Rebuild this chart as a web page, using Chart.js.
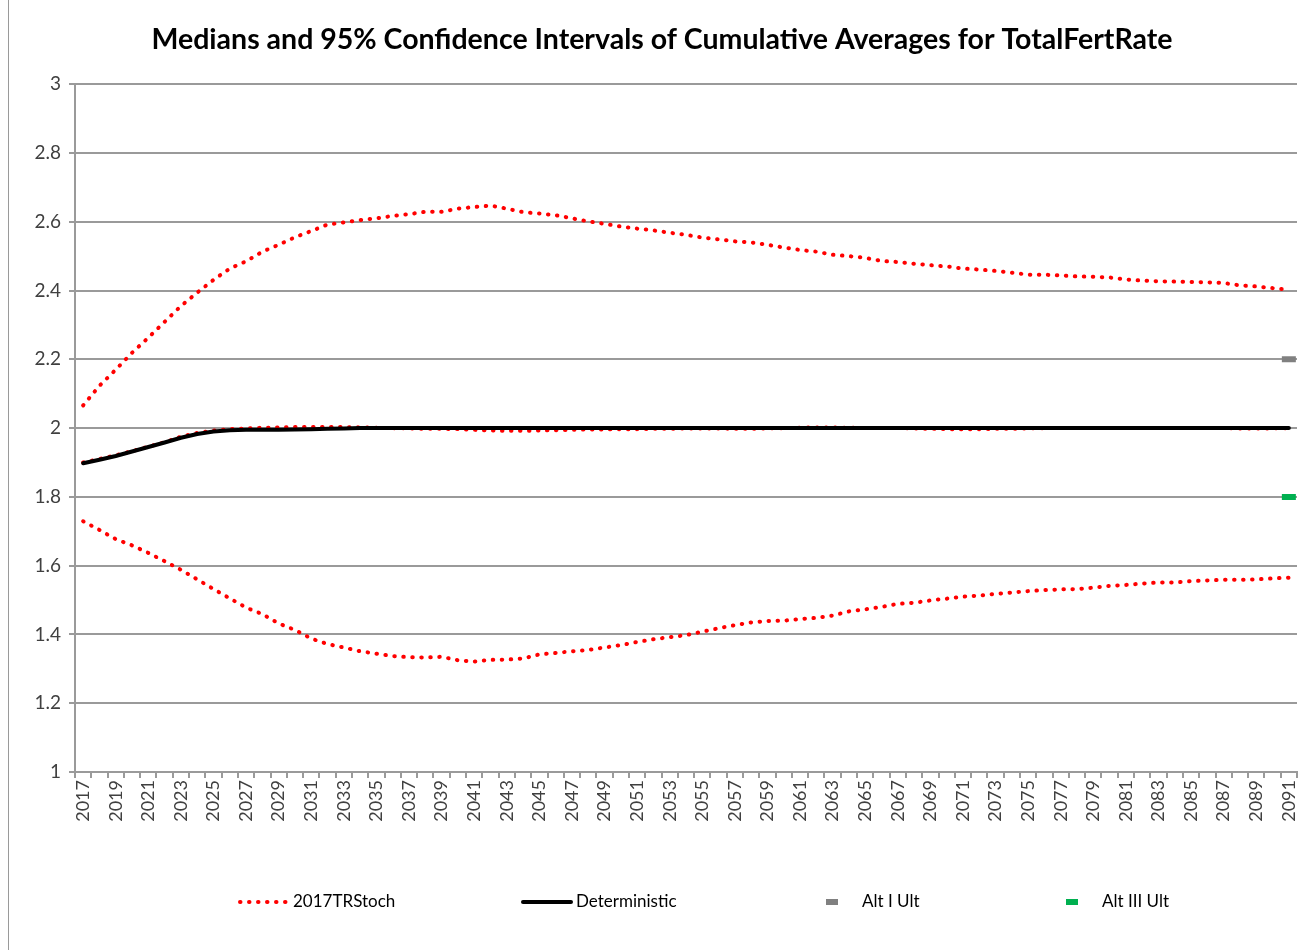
<!DOCTYPE html>
<html lang="en">
<head>
    <meta charset="UTF-8">
    <title>TotalFertRate</title>
    <style>
        html, body {
            margin: 0;
            padding: 0;
            background: #fff;
            overflow: hidden;
        }
        .frame {
            position: absolute;
            left: 8px;
            top: -5px;
            width: 1400px;
            height: 970px;
            border: 1px solid #9a9a9a;
            background: #fff;
        }
        #chart {
            position: absolute;
            left: 0;
            top: 5px;
        }
    </style>
    <script src="https://cdn.jsdelivr.net/npm/chart.js"></script>
</head>
<body>
    <div class="frame">
        <canvas id="chart" width="1306" height="945"></canvas>
    </div>

    <script>
        // years 2017..2091
        const years = [];
        for (let y = 2017; y <= 2091; y++) years.push(String(y));

        const stochUpper = [
            2.066, 2.123, 2.170, 2.219, 2.263, 2.309, 2.355, 2.394, 2.431, 2.464,
            2.485, 2.513, 2.533, 2.555, 2.573, 2.592, 2.598, 2.605, 2.610, 2.617,
            2.622, 2.629, 2.629, 2.638, 2.643, 2.647, 2.638, 2.628, 2.624, 2.619,
            2.610, 2.601, 2.594, 2.586, 2.580, 2.575, 2.568, 2.562, 2.554, 2.549,
            2.543, 2.540, 2.533, 2.525, 2.518, 2.513, 2.504, 2.500, 2.495, 2.486,
            2.483, 2.478, 2.474, 2.470, 2.464, 2.461, 2.457, 2.452, 2.446, 2.446,
            2.444, 2.441, 2.440, 2.438, 2.432, 2.429, 2.427, 2.426, 2.425, 2.424,
            2.422, 2.415, 2.412, 2.407, 2.402
        ];

        const stochMedian = [
            1.900, 1.910, 1.921, 1.933, 1.946, 1.959, 1.975, 1.986, 1.993, 1.997,
            1.999, 2.001, 2.002, 2.003, 2.003, 2.003, 2.003, 2.002, 2.001, 2.000,
            1.999, 1.998, 1.998, 1.997, 1.995, 1.993, 1.992, 1.992, 1.993, 1.994,
            1.995, 1.996, 1.996, 1.997, 1.997, 1.998, 1.998, 1.999, 1.999, 1.999,
            1.998, 1.998, 1.999, 2.000, 2.001, 2.002, 2.002, 2.001, 2.000, 2.000,
            2.000, 1.999, 1.998, 1.997, 1.997, 1.997, 1.998, 1.998, 1.999, 2.000,
            2.000, 2.000, 2.000, 2.000, 2.000, 2.000, 2.000, 2.000, 2.000, 2.000,
            2.000, 1.999, 1.999, 1.999, 2.000
        ];

        const stochLower = [
            1.729, 1.704, 1.677, 1.659, 1.637, 1.613, 1.588, 1.560, 1.532, 1.505,
            1.478, 1.459, 1.432, 1.413, 1.388, 1.372, 1.362, 1.351, 1.344, 1.337,
            1.334, 1.333, 1.335, 1.325, 1.321, 1.326, 1.327, 1.330, 1.342, 1.346,
            1.351, 1.355, 1.362, 1.369, 1.378, 1.386, 1.392, 1.398, 1.408, 1.418,
            1.427, 1.435, 1.439, 1.440, 1.445, 1.448, 1.455, 1.467, 1.473, 1.480,
            1.489, 1.492, 1.499, 1.504, 1.510, 1.513, 1.518, 1.522, 1.526, 1.529,
            1.531, 1.532, 1.536, 1.541, 1.544, 1.548, 1.551, 1.551, 1.555, 1.557,
            1.559, 1.559, 1.560, 1.563, 1.565
        ];

        const deterministic = [
            1.898, 1.908, 1.919, 1.932, 1.945, 1.958, 1.972, 1.983, 1.990, 1.994,
            1.995, 1.995, 1.995, 1.996, 1.997, 1.998, 1.999, 2.000, 2.000, 2.000,
            2.000, 2.000, 2.000, 2.000, 2.000, 2.000, 2.000, 2.000, 2.000, 2.000,
            2.000, 2.000, 2.000, 2.000, 2.000, 2.000, 2.000, 2.000, 2.000, 2.000,
            2.000, 2.000, 2.000, 2.000, 2.000, 2.000, 2.000, 2.000, 2.000, 2.000,
            2.000, 2.000, 2.000, 2.000, 2.000, 2.000, 2.000, 2.000, 2.000, 2.000,
            2.000, 2.000, 2.000, 2.000, 2.000, 2.000, 2.000, 2.000, 2.000, 2.000,
            2.000, 2.000, 2.000, 2.000, 2.000
        ];

        // ultimate assumptions, shown at the last year only
        const ultYear = '2091';
        const altIUlt = 2.2;
        const altIIIUlt = 1.8;

        const RED = '#ff0000';
        const FONT = 'Lato, "Open Sans", sans-serif';
        const TEXT = '#404040';
        const GRID = '#9a9a9a';

        const dotted = {
            borderColor: RED,
            borderWidth: 4,
            borderDash: [0.5, 8.5],
            borderCapStyle: 'round',
            pointRadius: 0,
            fill: false,
            tension: 0,
            order: 2
        };

        // legend drawn by hand so items sit where Excel put them
        const legendItems = [
            { text: '2017TRStoch', x: 229, kind: 'dots', color: RED },
            { text: 'Deterministic', x: 512, kind: 'line', color: '#000' },
            { text: 'Alt I Ult', x: 817, kind: 'dash', color: '#808080' },
            { text: 'Alt III Ult', x: 1057, kind: 'dash', color: '#00b050' }
        ];

        const excelLegend = {
            id: 'excelLegend',
            afterDraw(chart) {
                const ctx = chart.ctx;
                const y = 901;
                ctx.save();
                ctx.font = '17px ' + FONT;
                ctx.textBaseline = 'middle';
                legendItems.forEach(item => {
                    ctx.beginPath();
                    if (item.kind === 'dots') {
                        ctx.strokeStyle = item.color;
                        ctx.lineWidth = 4;
                        ctx.lineCap = 'round';
                        ctx.setLineDash([0.5, 8.5]);
                        ctx.moveTo(item.x + 2, y);
                        ctx.lineTo(item.x + 52, y);
                        ctx.stroke();
                        ctx.setLineDash([]);
                        ctx.fillStyle = '#000';
                        ctx.fillText(item.text, item.x + 55, y);
                    } else if (item.kind === 'line') {
                        ctx.strokeStyle = item.color;
                        ctx.lineWidth = 4;
                        ctx.lineCap = 'round';
                        ctx.moveTo(item.x + 2, y);
                        ctx.lineTo(item.x + 50, y);
                        ctx.stroke();
                        ctx.fillStyle = '#000';
                        ctx.fillText(item.text, item.x + 55, y);
                    } else {
                        ctx.fillStyle = item.color;
                        ctx.fillRect(item.x, y - 3, 12, 6);
                        ctx.fillStyle = '#000';
                        ctx.fillText(item.text, item.x + 36, y);
                    }
                });
                ctx.restore();
            }
        };

        const ctx = document.getElementById('chart');

        new Chart(ctx, {
            type: 'line',
            data: {
                labels: years,
                datasets: [
                    { label: '2017TRStoch', data: stochUpper, ...dotted },
                    { label: '2017TRStoch median', data: stochMedian, ...dotted },
                    { label: '2017TRStoch lower', data: stochLower, ...dotted },
                    {
                        label: 'Deterministic',
                        data: deterministic,
                        borderColor: '#000',
                        borderWidth: 4,
                        borderCapStyle: 'round',
                        pointRadius: 0,
                        tension: 0,
                        order: 0
                    },
                    {
                        label: 'Alt I Ult',
                        data: [{ x: ultYear, y: altIUlt }],
                        showLine: false,
                        pointStyle: 'line',
                        pointRadius: 7,
                        pointBorderWidth: 6,
                        borderColor: '#808080',
                        backgroundColor: '#808080',
                        order: 1
                    },
                    {
                        label: 'Alt III Ult',
                        data: [{ x: ultYear, y: altIIIUlt }],
                        showLine: false,
                        pointStyle: 'line',
                        pointRadius: 7,
                        pointBorderWidth: 6,
                        borderColor: '#00b050',
                        backgroundColor: '#00b050',
                        order: 1
                    }
                ]
            },
            options: {
                responsive: false,
                animation: false,
                layout: {
                    padding: { left: 18, right: 18, top: 0, bottom: 74 }
                },
                plugins: {
                    legend: { display: false },
                    tooltip: { enabled: false },
                    title: {
                        display: true,
                        text: 'Medians and 95% Confidence Intervals of Cumulative Averages for TotalFertRate',
                        color: '#000',
                        font: { family: FONT, size: 28.5, weight: 'bold' },
                        padding: { top: 22, bottom: 27 }
                    }
                },
                scales: {
                    x: {
                        offset: true,
                        afterFit: scale => { scale.height = 100; },
                        grid: {
                            offset: true,
                            drawOnChartArea: false,
                            drawTicks: true,
                            tickLength: 6,
                            color: GRID,
                            lineWidth: 2
                        },
                        border: { color: GRID, width: 2 },
                        ticks: {
                            autoSkip: false,
                            minRotation: 90,
                            maxRotation: 90,
                            padding: 2,
                            color: TEXT,
                            font: { family: FONT, size: 18 },
                            callback: function (value, index) {
                                return index % 2 === 0 ? this.getLabelForValue(value) : '';
                            }
                        }
                    },
                    y: {
                        min: 1,
                        max: 3,
                        afterFit: scale => { scale.width = 48; },
                        grid: {
                            color: GRID,
                            lineWidth: 2,
                            tickLength: 6
                        },
                        border: { color: GRID, width: 2 },
                        ticks: {
                            stepSize: 0.2,
                            padding: 8,
                            color: TEXT,
                            font: { family: FONT, size: 19 },
                            callback: v => String(+v.toFixed(1))
                        }
                    }
                }
            },
            plugins: [excelLegend]
        });
    </script>
</body>
</html>
